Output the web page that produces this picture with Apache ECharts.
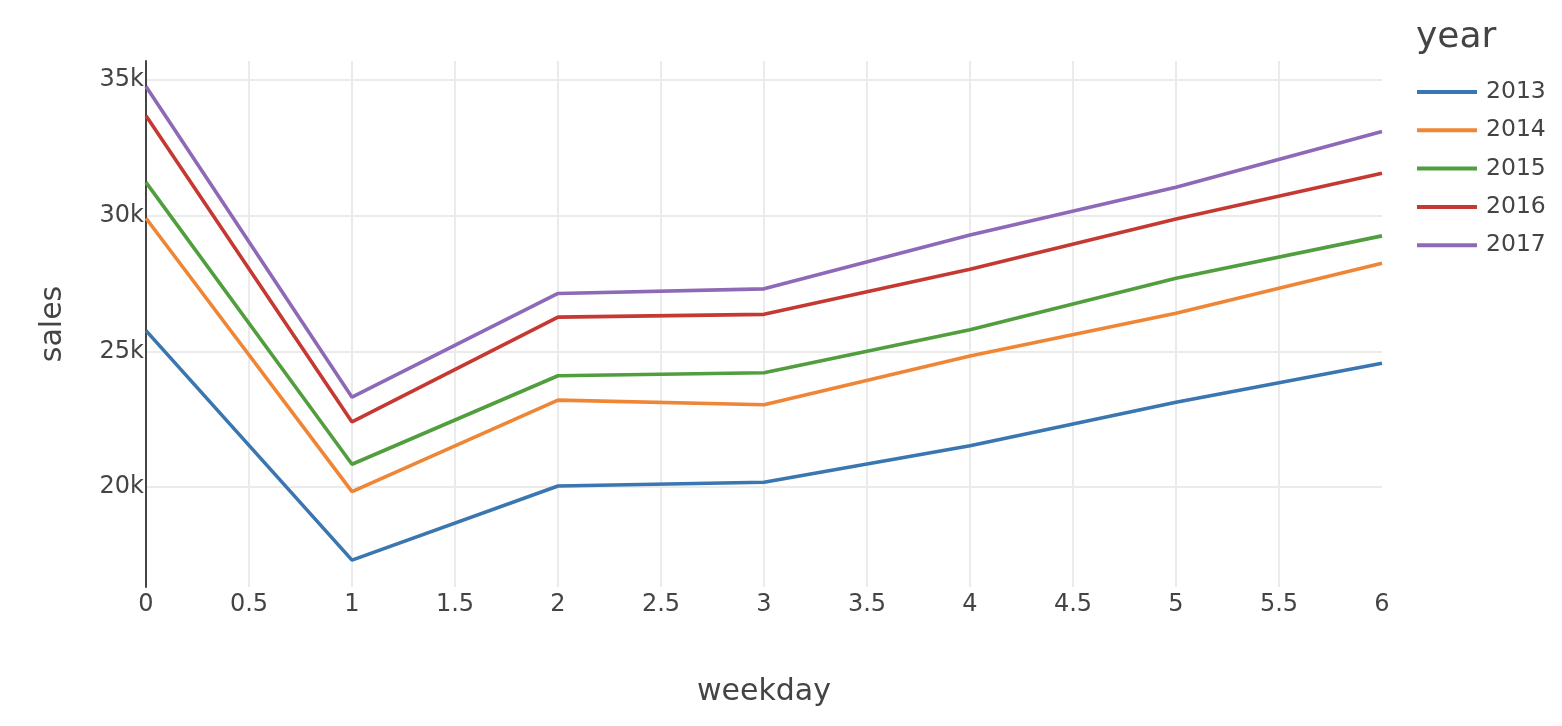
<!DOCTYPE html>
<html>
<head>
<meta charset="utf-8">
<script src="https://cdn.jsdelivr.net/npm/echarts@6/dist/echarts.min.js"></script>
<style>
html,body{margin:0;padding:0;background:#fff;}
#chart{width:1562px;height:726px;}
</style>
</head>
<body>
<div id="chart"></div>
<script>
const weekdays = [0, 1, 2, 3, 4, 5, 6];
const years = ['2013', '2014', '2015', '2016', '2017'];
const sales2013 = [25760, 17310, 20040, 20180, 21520, 23120, 24560];
const sales2014 = [29900, 19830, 23200, 23030, 24830, 26400, 28240];
const sales2015 = [31220, 20840, 24100, 24210, 25790, 27690, 29250];
const sales2016 = [33670, 22400, 26260, 26360, 28020, 29870, 31560];
const sales2017 = [34750, 23310, 27130, 27300, 29280, 31040, 33090];
const yTicks = [20000, 25000, 30000, 35000];
const colors = ['#3a76af', '#ef8636', '#519e3e', '#c53932', '#8d69b8'];

const allSales = [sales2013, sales2014, sales2015, sales2016, sales2017];
const FONT = '"DejaVu Sans", Verdana, sans-serif';
const chart = echarts.init(document.getElementById('chart'));

chart.setOption({
  backgroundColor: '#fff',
  animation: false,
  textStyle: { fontFamily: FONT, color: '#444' },
  title: {
    text: 'year', left: 1411, top: 15,
    textStyle: { fontFamily: FONT, fontSize: 36, fontWeight: 'normal', color: '#444' }
  },
  legend: {
    orient: 'vertical', left: 1417, top: 80, padding: 0,
    itemWidth: 60, itemHeight: 4, itemGap: 14.3,
    icon: 'rect',
    textStyle: { fontFamily: FONT, fontSize: 23.5, color: '#444', padding: [0, 0, 0, 4] },
    data: years
  },
  grid: { left: 146, right: 180, top: 61, bottom: 139, containLabel: false },
  xAxis: {
    type: 'value', min: 0, max: 6, interval: 0.5,
    name: 'weekday', nameLocation: 'middle', nameGap: 90,
    nameTextStyle: { fontFamily: FONT, fontSize: 30, color: '#444' },
    axisLine: { show: false },
    axisTick: { show: false },
    axisLabel: { fontFamily: FONT, fontSize: 24, color: '#444', margin: 6 },
    splitLine: { show: true, showMinLine: false, showMaxLine: false, lineStyle: { color: '#ebebeb', width: 2 } }
  },
  yAxis: {
    type: 'value', min: 16320, max: 35690,
    name: 'sales', nameLocation: 'middle', nameGap: 78,
    nameTextStyle: { fontFamily: FONT, fontSize: 30, color: '#444' },
    axisLine: { show: true, lineStyle: { color: '#444', width: 2 } },
    axisTick: { show: false, customValues: yTicks },
    axisLabel: {
      fontFamily: FONT, fontSize: 24, color: '#444', margin: 2,
      customValues: yTicks,
      formatter: v => (v / 1000) + 'k'
    },
    splitLine: { show: true, lineStyle: { color: '#ebebeb', width: 2 } }
  },
  series: years.map((y, i) => ({
    name: y,
    type: 'line',
    data: weekdays.map((d, j) => [d, allSales[i][j]]),
    symbol: 'none',
    lineStyle: { width: 3.6, color: colors[i] },
    itemStyle: { color: colors[i] },
    z: 2 + i
  }))
});
</script>
</body>
</html>
